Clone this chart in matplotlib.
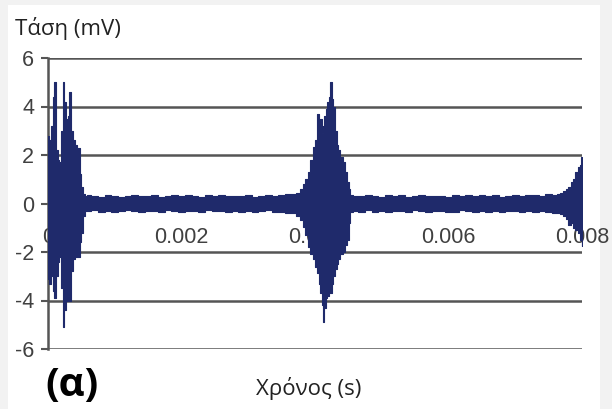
import matplotlib
matplotlib.use("Agg")
import matplotlib.pyplot as plt
from matplotlib.patches import Rectangle
import numpy as np

plt.rcParams["axes.unicode_minus"] = False

# signal envelope, time in ms, voltage in mV
burst1_t = [0.000, 0.030, 0.055, 0.080, 0.105, 0.130, 0.155, 0.180, 0.205, 0.230, 0.255,
            0.280, 0.305, 0.330, 0.355, 0.380, 0.420, 0.460, 0.490, 0.510, 0.540, 0.560]
burst1_up = [2.8, 2.6, 3.2, 4.4, 5.0, 2.2, 1.8, 1.7, 3.0, 5.0, 4.2,
             3.5, 3.6, 4.6, 3.0, 2.6, 2.4, 2.3, 1.2, 0.7, 0.4, 0.3]
burst1_lo = [-3.1, -3.3, -3.0, -3.6, -3.9, -3.0, -2.4, -2.2, -3.5, -5.1, -4.4,
             -4.0, -3.8, -4.0, -2.8, -2.3, -2.2, -2.2, -1.6, -1.2, -0.5, -0.3]

quiet1_t = [0.6, 0.7, 0.8, 0.9, 1.0, 1.1, 1.2, 1.3, 1.4, 1.5, 1.6, 1.7, 1.8, 1.9, 2.0, 2.1,
            2.2, 2.3, 2.4, 2.5, 2.6, 2.7, 2.8, 2.9, 3.0, 3.1, 3.2, 3.3, 3.4, 3.5, 3.6]
quiet1_up = [0.35, 0.30, 0.28, 0.33, 0.30, 0.27, 0.32, 0.36, 0.29, 0.31, 0.34, 0.28, 0.30, 0.33, 0.29, 0.35,
             0.31, 0.28, 0.33, 0.30, 0.36, 0.29, 0.32, 0.30, 0.34, 0.28, 0.31, 0.35, 0.30, 0.33, 0.38]
quiet1_lo = [-0.30, -0.27, -0.33, -0.29, -0.35, -0.30, -0.26, -0.32, -0.36, -0.29, -0.31, -0.34, -0.28, -0.30, -0.37, -0.29,
             -0.32, -0.35, -0.28, -0.31, -0.30, -0.36, -0.29, -0.33, -0.30, -0.35, -0.31, -0.28, -0.34, -0.36, -0.40]

burst2_t = [3.700, 3.740, 3.800, 3.835, 3.870, 3.910, 3.950, 3.985, 4.015, 4.045, 4.070, 4.090, 4.110, 4.130, 4.150,
            4.165, 4.190, 4.215, 4.241, 4.265, 4.286, 4.310, 4.335, 4.361, 4.400, 4.436, 4.470, 4.496, 4.520, 4.541]
burst2_up = [0.40, 0.45, 0.60, 0.80, 1.0, 1.3, 1.8, 2.35, 2.6, 3.7, 3.3, 3.5, 2.9, 3.2, 3.6,
             3.9, 4.2, 4.4, 5.0, 4.3, 4.0, 3.0, 2.4, 2.2, 1.9, 1.7, 1.3, 0.9, 0.6, 0.35]
burst2_lo = [-0.40, -0.50, -0.70, -0.95, -1.3, -1.8, -2.1, -2.3, -2.6, -2.85, -3.3, -3.7, -4.2, -4.9, -4.3,
             -3.9, -3.8, -3.7, -3.7, -3.3, -3.0, -2.7, -2.5, -2.3, -2.1, -2.0, -1.7, -1.5, -0.8, -0.35]

quiet2_t = [4.6, 4.7, 4.8, 4.9, 5.0, 5.1, 5.2, 5.3, 5.4, 5.5, 5.6, 5.7, 5.8, 5.9, 6.0, 6.1,
            6.2, 6.3, 6.4, 6.5, 6.6, 6.7, 6.8, 6.9, 7.0, 7.1, 7.2, 7.3, 7.4, 7.5, 7.6]
quiet2_up = [0.32, 0.29, 0.34, 0.30, 0.27, 0.33, 0.31, 0.36, 0.28, 0.30, 0.35, 0.29, 0.32, 0.30, 0.27, 0.34,
             0.31, 0.36, 0.29, 0.33, 0.30, 0.35, 0.28, 0.32, 0.37, 0.30, 0.33, 0.36, 0.31, 0.38, 0.34]
quiet2_lo = [-0.31, -0.35, -0.28, -0.33, -0.30, -0.36, -0.29, -0.31, -0.34, -0.28, -0.32, -0.37, -0.30, -0.29, -0.33, -0.35,
             -0.28, -0.31, -0.36, -0.30, -0.33, -0.29, -0.35, -0.31, -0.30, -0.37, -0.32, -0.35, -0.30, -0.36, -0.38]

burst3_t = [7.650, 7.700, 7.740, 7.774, 7.820, 7.850, 7.880, 7.920, 7.955, 7.980, 7.990, 8.000]
burst3_up = [0.40, 0.45, 0.50, 0.60, 0.70, 0.90, 1.0, 1.3, 1.5, 1.6, 1.9, 1.8]
burst3_lo = [-0.40, -0.45, -0.50, -0.65, -0.90, -0.80, -1.0, -1.1, -1.2, -1.5, -1.4, -1.75]

y_ticks = [-6, -4, -2, 0, 2, 4, 6]
x_ticks = [0, 0.002, 0.004, 0.006, 0.008]
x_tick_labels = ["0", "0.002", "0.004", "0.006", "0.008"]

t = np.array(burst1_t + quiet1_t + burst2_t + quiet2_t + burst3_t) / 1000.0
upper = np.array(burst1_up + quiet1_up + burst2_up + quiet2_up + burst3_up)
lower = np.array(burst1_lo + quiet1_lo + burst2_lo + quiet2_lo + burst3_lo)

navy = "#1f2a6b"
grid_grey = "#555555"
text_grey = "#404040"

fig = plt.figure(figsize=(6.12, 4.09), dpi=100, facecolor="#f2f2f2")
fig.patches.append(Rectangle((8 / 612, 0), 592 / 612, 1 - 5 / 409, transform=fig.transFigure,
                             facecolor="white", edgecolor="none", zorder=-5))
ax = fig.add_axes([48 / 612, 1 - 349 / 409, 534 / 612, 291 / 409])
ax.set_facecolor("none")

ax.fill_between(t, lower, upper, step="mid", color=navy, linewidth=0.8, edgecolor=navy, zorder=3)

ax.set_xlim(0, 0.008)
ax.set_ylim(-6, 6)
ax.set_yticks(y_ticks)
ax.set_xticks(x_ticks)
ax.set_xticklabels(x_tick_labels)

ax.yaxis.grid(True, color=grid_grey, linewidth=1.8)
ax.set_axisbelow(True)
for side in ["top", "right"]:
    ax.spines[side].set_visible(False)
ax.spines["bottom"].set_position(("data", 0))
ax.spines["bottom"].set_visible(False)
ax.spines["left"].set_color(grid_grey)
ax.spines["left"].set_linewidth(1.8)

ax.tick_params(axis="y", length=5, width=1.5, color=grid_grey, pad=5,
               labelsize=15.5, labelcolor=text_grey)
ax.tick_params(axis="x", length=0, pad=17, labelsize=15.5, labelcolor=text_grey)
for lab in ax.get_xticklabels() + ax.get_yticklabels():
    lab.set_fontfamily("Liberation Sans")

fig.text(15 / 612, 1 - 35 / 409, "Τάση (mV)", fontsize=16, family="Open Sans",
         color="#222222", va="baseline", ha="left")
fig.text(309 / 612, 1 - 395 / 409, "Χρόνος (s)", fontsize=16, family="Open Sans",
         color="#222222", va="baseline", ha="center")
fig.text(45 / 612, 1 - 396 / 409, "(α)", fontsize=29, family="Open Sans", fontweight="bold",
         color="black", va="baseline", ha="left")

fig.savefig("out.png", dpi=100, facecolor=fig.get_facecolor())
